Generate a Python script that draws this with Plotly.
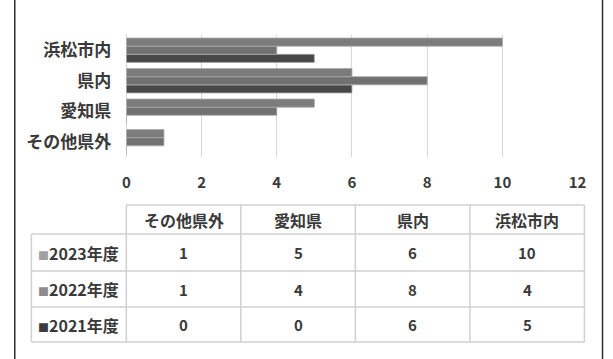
import plotly.graph_objects as go

W, H = 613, 359

categories = ["その他県外", "愛知県", "県内", "浜松市内"]
years = ["2023年度", "2022年度", "2021年度"]
v2023 = [1, 5, 6, 10]
v2022 = [1, 4, 8, 4]
v2021 = [0, 0, 6, 5]
x_ticks = [0, 2, 4, 6, 8, 10, 12]

bar_colors = {"2023年度": "#7c7c7c", "2022年度": "#717171", "2021年度": "#474747"}
mark_colors = {"2023年度": "#a0a0a0", "2022年度": "#8c8c8c", "2021年度": "#3c3c3c"}
series = {"2023年度": v2023, "2022年度": v2022, "2021年度": v2021}

FONT = "Noto Sans CJK JP"
TXT = "#3a3a3a"


def px_x(p):
    return p / W


def px_y(p):
    return 1 - p / H


fig = go.Figure()
for yr in ["2021年度", "2022年度", "2023年度"]:
    fig.add_trace(go.Bar(
        y=categories, x=series[yr], orientation="h", name=yr,
        marker=dict(color=bar_colors[yr], line=dict(color="#a8a8a8", width=0.8)),
        showlegend=False,
    ))

# ---- data table drawn with shapes + annotations ----
grid = "#d0d0d0"
col_edges = [28, 125, 242, 359, 476, 593]
row_edges = [205, 234, 271, 307, 342]
shapes = []
annotations = []


def hline(y, x0, x1):
    shapes.append(dict(type="line", xref="paper", yref="paper",
                       x0=px_x(x0), x1=px_x(x1), y0=px_y(y), y1=px_y(y),
                       line=dict(color=grid, width=1.5)))


def vline(x, y0, y1):
    shapes.append(dict(type="line", xref="paper", yref="paper",
                       x0=px_x(x), x1=px_x(x), y0=px_y(y0), y1=px_y(y1),
                       line=dict(color=grid, width=1.5)))


hline(row_edges[0], col_edges[1], col_edges[-1])
for y in row_edges[1:]:
    hline(y, col_edges[0], col_edges[-1])
vline(col_edges[0], row_edges[1], row_edges[-1])
for x in col_edges[1:]:
    vline(x, row_edges[0], row_edges[-1])

tfont = dict(family=FONT, size=16, color=TXT, weight="bold")
for i, c in enumerate(categories):
    annotations.append(dict(
        xref="paper", yref="paper",
        x=px_x((col_edges[i + 1] + col_edges[i + 2]) / 2),
        y=px_y((row_edges[0] + row_edges[1]) / 2),
        text=c, showarrow=False, xanchor="center", yanchor="middle",
        font=tfont))
for r, yr in enumerate(years):
    yc = px_y((row_edges[r + 1] + row_edges[r + 2]) / 2)
    annotations.append(dict(
        xref="paper", yref="paper", x=px_x(33), y=yc,
        text=f"<span style='font-size:11px;color:{mark_colors[yr]}'>■</span>{yr}",
        showarrow=False, xanchor="left", yanchor="middle", font=tfont))
    for i in range(len(categories)):
        annotations.append(dict(
            xref="paper", yref="paper",
            x=px_x((col_edges[i + 1] + col_edges[i + 2]) / 2), y=yc,
            text=str(series[yr][i]), showarrow=False,
            xanchor="center", yanchor="middle",
            font=dict(family=FONT, size=15, color=TXT, weight="bold")))

for xx in (11, 611.5):
    shapes.append(dict(type="line", xref="paper", yref="paper",
                       x0=px_x(xx), x1=px_x(xx), y0=0, y1=1,
                       line=dict(color="#2e2e2e", width=1.5)))

fig.update_layout(
    width=W, height=H,
    margin=dict(l=0, r=0, t=0, b=0),
    paper_bgcolor="white", plot_bgcolor="white",
    barmode="group", bargap=0.2, bargroupgap=0,
    xaxis=dict(
        domain=[px_x(125), px_x(586)], range=[0, 12],
        tickvals=x_ticks, showgrid=True, gridcolor="#d6d6d6", gridwidth=1.2,
        zeroline=True, zerolinecolor="#d6d6d6", zerolinewidth=1.2,
        showline=False, ticks="", ticklabelstandoff=15,
        tickfont=dict(family=FONT, size=15, color=TXT, weight="bold"),
    ),
    yaxis=dict(
        domain=[px_y(157), px_y(35)], type="category",
        categoryorder="array", categoryarray=categories,
        showgrid=False, zeroline=False, showline=False, ticks="",
        ticklabelstandoff=14,
        tickfont=dict(family=FONT, size=17, color=TXT, weight="bold"),
    ),
    shapes=shapes,
    annotations=annotations,
)

fig.write_html("out.html")
